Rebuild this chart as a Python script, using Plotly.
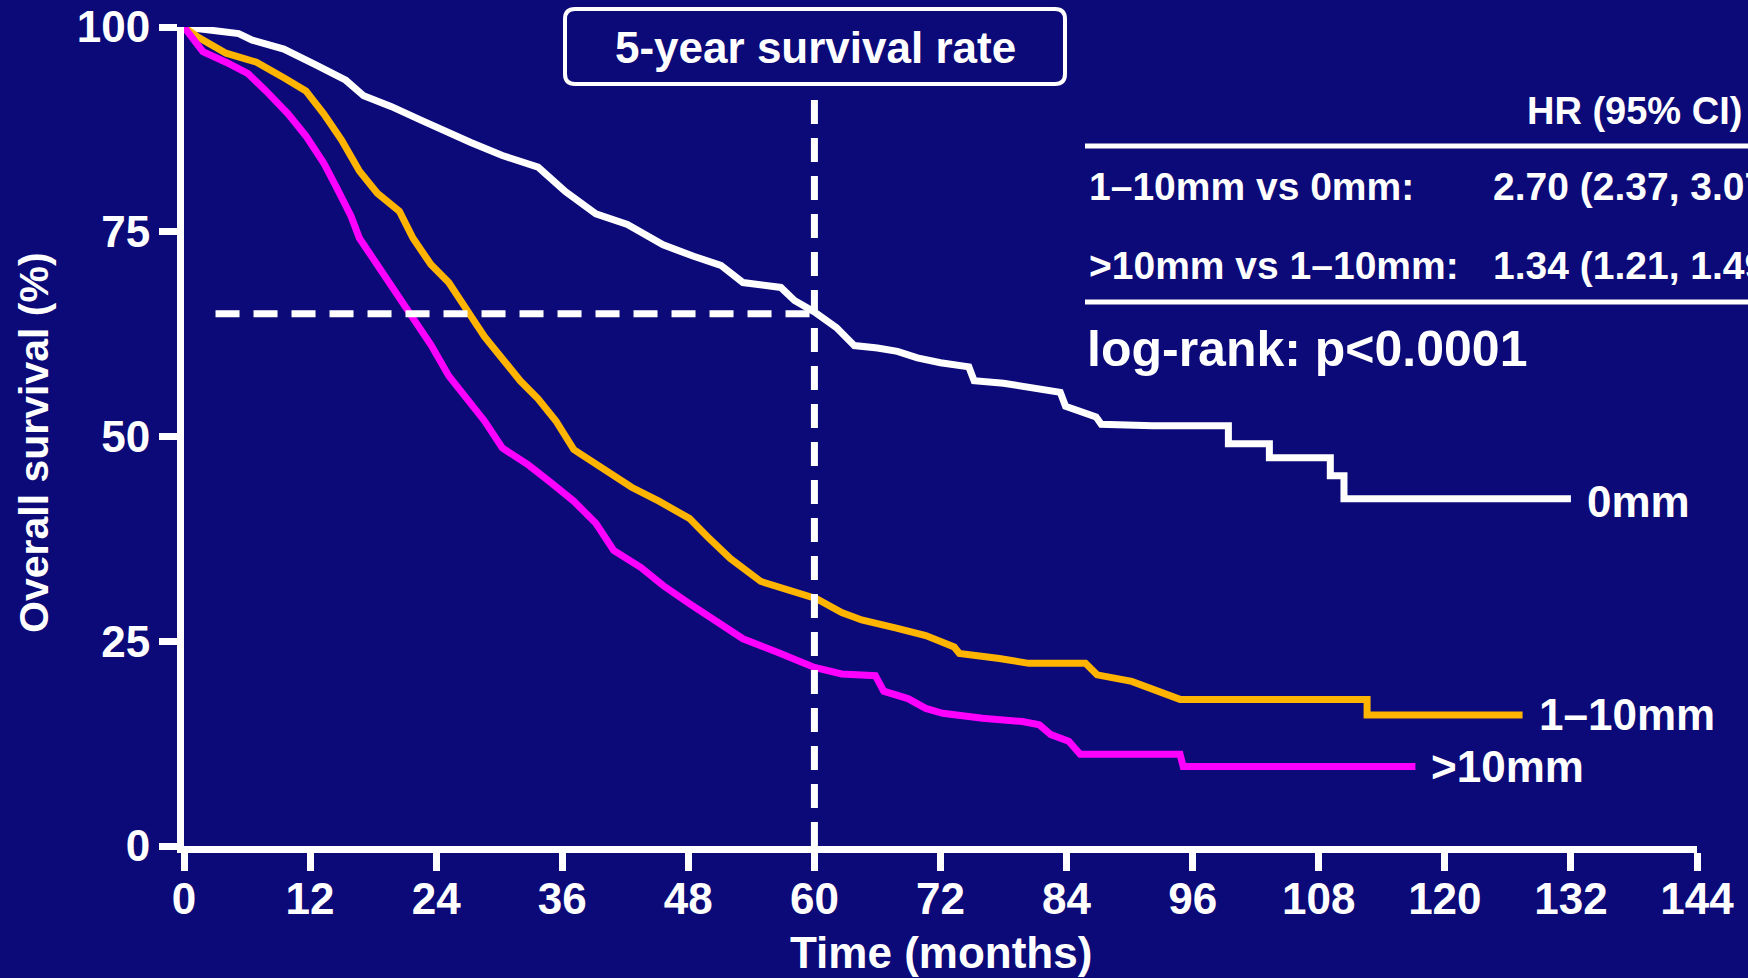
import plotly.graph_objects as go

# Kaplan–Meier curve vertices: time in months, overall survival in %
months_0mm = [0, 2.5, 5.2, 6.5, 9.5, 12.5, 15.4, 17.1, 19.7, 22.6, 25.2, 27.3, 30.3,
              33.7, 36.3, 39.2, 42.2, 45.6, 48.5, 51.1, 53.2, 56.8, 58.1, 60.0, 62.1,
              63.8, 66.0, 67.9, 69.8, 72.0, 74.7, 75.2, 78.0, 80.0, 83.4, 83.9, 86.8,
              87.3, 92.2, 99.4, 99.4, 103.3, 103.3, 109.1, 109.1, 110.4, 110.4, 132.0]
surv_0mm = [100, 99.6, 99.2, 98.4, 97.3, 95.4, 93.5, 91.6, 90.3, 88.6, 87.0, 85.9, 84.3,
            82.9, 79.9, 77.2, 75.9, 73.4, 72.0, 70.9, 68.8, 68.2, 66.6, 65.2, 63.3,
            61.1, 60.8, 60.4, 59.6, 59.0, 58.5, 56.8, 56.5, 56.1, 55.4, 53.7, 52.4,
            51.5, 51.3, 51.3, 49.1, 49.1, 47.4, 47.4, 45.2, 45.2, 42.4, 42.4]

months_1_10mm = [0, 1.4, 4.0, 6.9, 9.5, 11.6, 13.3, 15.0, 16.7, 18.4, 20.5, 21.8, 23.5,
                 25.2, 26.9, 28.6, 30.3, 32.0, 33.7, 35.4, 37.1, 38.8, 40.9, 42.6, 45.2,
                 48.1, 49.8, 52.0, 54.9, 57.5, 60.2, 62.6, 64.5, 67.8, 70.6, 73.3, 73.8,
                 77.6, 80.4, 85.8, 86.9, 90.2, 92.9, 94.8, 112.6, 112.6, 127.4]
surv_1_10mm = [100, 98.7, 96.8, 95.7, 93.8, 92.2, 89.4, 86.2, 82.4, 79.7, 77.5, 74.2, 71.0,
               68.8, 65.5, 62.2, 59.5, 56.8, 54.6, 51.9, 48.4, 47.0, 45.4, 43.8, 42.1,
               40.0, 37.8, 35.1, 32.3, 31.3, 30.2, 28.5, 27.6, 26.6, 25.7, 24.3, 23.5,
               22.9, 22.3, 22.3, 20.9, 20.1, 18.9, 17.9, 17.9, 16.0, 16.0]

months_gt10mm = [0, 1.8, 4.0, 6.1, 7.8, 9.9, 11.6, 13.3, 14.6, 15.9, 16.7, 18.4, 20.1,
                 21.8, 23.5, 25.2, 26.9, 28.6, 30.3, 32.8, 35.0, 37.1, 39.2, 40.9, 43.5,
                 45.6, 48.1, 50.7, 53.2, 56.6, 60.0, 62.6, 65.8, 66.6, 68.9, 70.6, 72.2,
                 76.0, 79.8, 81.4, 82.5, 84.2, 85.3, 94.8, 95.1, 117.2]
surv_gt10mm = [100, 97.0, 95.7, 94.3, 92.2, 89.4, 86.7, 83.4, 80.2, 76.9, 74.2, 70.9, 67.7,
               64.4, 61.2, 57.4, 54.6, 51.9, 48.6, 46.5, 44.3, 42.1, 39.4, 36.1, 34.0,
               31.8, 29.6, 27.5, 25.3, 23.6, 21.8, 21.0, 20.8, 18.9, 18.0, 16.8, 16.2,
               15.6, 15.2, 14.8, 13.6, 12.8, 11.2, 11.2, 9.7, 9.7]

group_labels = ["0mm", "1–10mm", ">10mm"]
group_colors = ["#ffffff", "#ffb400", "#ff00ff"]

x_ticks = [0, 12, 24, 36, 48, 60, 72, 84, 96, 108, 120, 132, 144]
y_ticks = [0, 25, 50, 75, 100]

# 5-year landmark and the 0mm survival at that time
landmark_month = 60
landmark_surv = 65

hr_header = "HR (95% CI)"
hr_rows = ["1–10mm vs 0mm:", ">10mm vs 1–10mm:"]
hr_values = ["2.70 (2.37, 3.07)", "1.34 (1.21, 1.49)"]
logrank_text = "log-rank: p<0.0001"

# ---- page geometry (pixels) ----
W, H = 1748, 978
PLOT_L, PLOT_R, PLOT_T, PLOT_B = 184, 1697, 27, 846
BG = "#0b0a78"
FONT = "Liberation Sans, Arial, Helvetica, sans-serif"


def px(x):
    return (x - PLOT_L) / (PLOT_R - PLOT_L)


def py(y):
    return (PLOT_B - y) / (PLOT_B - PLOT_T)


def bold(size):
    return dict(family=FONT, size=size, color="white", weight=700)


fig = go.Figure()

series = [(months_0mm, surv_0mm), (months_1_10mm, surv_1_10mm), (months_gt10mm, surv_gt10mm)]
for (mx, sy), name, col in zip(series, group_labels, group_colors):
    fig.add_trace(go.Scatter(x=mx, y=sy, mode="lines", name=name,
                             line=dict(color=col, width=7),
                             hoverinfo="skip", showlegend=False))

annotations = []
# curve end labels
for (mx, sy), name, ys in zip(series, group_labels, [-3, 0, 0]):
    annotations.append(dict(x=mx[-1], y=sy[-1], xref="x", yref="y", text=name,
                            xanchor="left", yanchor="middle", xshift=14, yshift=ys,
                            showarrow=False, font=bold(44)))

# axis titles
annotations.append(dict(x=px(941), y=py(952), xref="paper", yref="paper",
                        text="Time (months)", showarrow=False,
                        xanchor="center", yanchor="middle", font=bold(44)))
annotations.append(dict(x=px(34), y=py(443), xref="paper", yref="paper",
                        text="Overall survival (%)", showarrow=False, textangle=-90,
                        xanchor="center", yanchor="middle", font=bold(41)))

# boxed landmark caption
annotations.append(dict(x=px(815), y=py(47), xref="paper", yref="paper",
                        text="5-year survival rate", showarrow=False,
                        xanchor="center", yanchor="middle", font=bold(44)))

# hazard ratio table
annotations.append(dict(x=px(1525), y=py(111), xref="paper", yref="paper",
                        text=hr_header, showarrow=False, xanchor="left", yanchor="middle",
                        font=bold(38)))
for row, val, yc in zip(hr_rows, hr_values, [187, 265]):
    annotations.append(dict(x=px(1087), y=py(yc), xref="paper", yref="paper",
                            text=row, showarrow=False, xanchor="left", yanchor="middle",
                            font=bold(39)))
    annotations.append(dict(x=px(1491), y=py(yc), xref="paper", yref="paper",
                            text=val, showarrow=False, xanchor="left", yanchor="middle",
                            font=bold(39)))
annotations.append(dict(x=px(1085), y=py(349), xref="paper", yref="paper",
                        text=logrank_text, showarrow=False, xanchor="left", yanchor="middle",
                        font=bold(50)))

shapes = []
# dashed landmark guides
shapes.append(dict(type="line", xref="x", yref="paper",
                   x0=landmark_month, x1=landmark_month, y0=0, y1=py(95),
                   line=dict(color="white", width=7, dash="24px,14px")))
shapes.append(dict(type="line", xref="x", yref="y",
                   x0=3, x1=landmark_month, y0=landmark_surv, y1=landmark_surv,
                   line=dict(color="white", width=7, dash="24px,14px")))

# rounded caption box
bx0, bx1, by_top, by_bot = px(565), px(1065), py(9), py(84)
rx = 10 / (PLOT_R - PLOT_L)
ry = 10 / (PLOT_B - PLOT_T)
box_path = (f"M {bx0 + rx},{by_top} L {bx1 - rx},{by_top} Q {bx1},{by_top} {bx1},{by_top - ry} "
            f"L {bx1},{by_bot + ry} Q {bx1},{by_bot} {bx1 - rx},{by_bot} "
            f"L {bx0 + rx},{by_bot} Q {bx0},{by_bot} {bx0},{by_bot + ry} "
            f"L {bx0},{by_top - ry} Q {bx0},{by_top} {bx0 + rx},{by_top} Z")
shapes.append(dict(type="path", xref="paper", yref="paper", path=box_path,
                   fillcolor=BG, line=dict(color="white", width=4)))

# table rules
for yl in [146, 302]:
    shapes.append(dict(type="line", xref="paper", yref="paper",
                       x0=px(1085), x1=px(1760), y0=py(yl), y1=py(yl),
                       line=dict(color="white", width=5)))

axis_common = dict(showline=True, linecolor="white", linewidth=7,
                   ticks="outside", ticklen=18, tickwidth=7, tickcolor="white",
                   showgrid=False, zeroline=False, tickfont=bold(44))

fig.update_layout(
    width=W, height=H,
    margin=dict(l=PLOT_L, r=W - PLOT_R, t=PLOT_T, b=H - PLOT_B, autoexpand=False),
    paper_bgcolor=BG, plot_bgcolor=BG,
    font=dict(family=FONT, color="white"),
    xaxis=dict(range=[0, 144], tickvals=x_ticks, ticklabelstandoff=-10, **axis_common),
    yaxis=dict(range=[0, 100], tickvals=y_ticks, **axis_common),
    annotations=annotations,
    shapes=shapes,
)

fig.write_html("out.html", config={"displayModeBar": False})
